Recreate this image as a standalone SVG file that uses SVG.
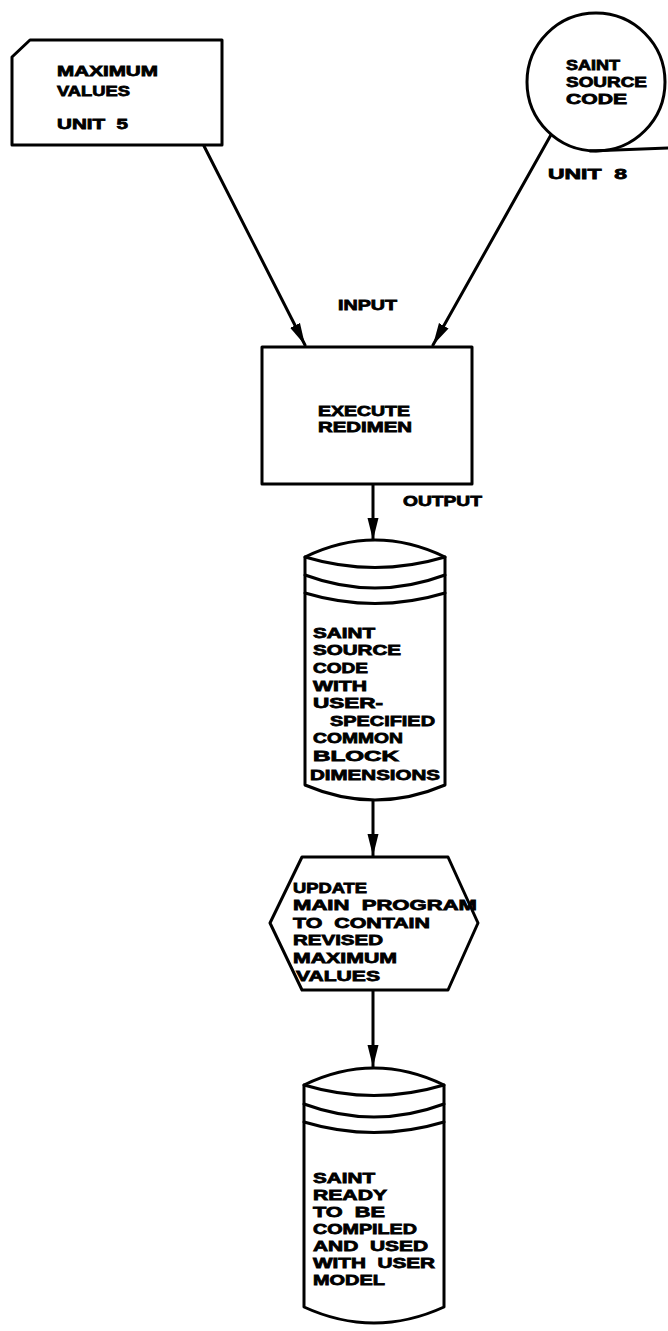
<svg xmlns="http://www.w3.org/2000/svg" width="668" height="1331" viewBox="0 0 668 1331">
<defs>
<marker id="ah" markerUnits="userSpaceOnUse" markerWidth="24" markerHeight="12" viewBox="0 0 24 12" refX="22" refY="6" orient="auto">
<path d="M0,0.5 L22,6 L0,11.5 Z" fill="#000"/>
</marker>
</defs>
<style>
.s{fill:none;stroke:#000;stroke-width:3;stroke-linejoin:round;stroke-linecap:round}
.w{fill:#fff;stroke:#000;stroke-width:3;stroke-linejoin:round}
.t{font-family:"Liberation Sans",Arial,sans-serif;font-weight:bold;font-size:15px;fill:#000;stroke:#000;stroke-width:0.8}
</style>
<rect width="668" height="1331" fill="#fff"/>
<g id="connectors">
<line class="s" x1="204" y1="146" x2="305" y2="345" marker-end="url(#ah)"/>
<line class="s" x1="552" y1="133" x2="433" y2="345" marker-end="url(#ah)"/>
<line class="s" x1="373" y1="484" x2="373" y2="540" marker-end="url(#ah)"/>
<line class="s" x1="373" y1="800" x2="373" y2="856" marker-end="url(#ah)"/>
<line class="s" x1="373" y1="990" x2="373" y2="1067" marker-end="url(#ah)"/>
<text class="t" x="338" y="310" textLength="59" lengthAdjust="spacingAndGlyphs">INPUT</text>
<text class="t" x="403" y="506" textLength="79" lengthAdjust="spacingAndGlyphs">OUTPUT</text>
</g>
<g id="max-values">
<polygon class="w" points="12,57 30,40 222,40 222,145 12,145"/>
<text class="t" x="57" y="76" textLength="101" lengthAdjust="spacingAndGlyphs">MAXIMUM</text>
<text class="t" x="57" y="96" textLength="73" lengthAdjust="spacingAndGlyphs">VALUES</text>
<text class="t" x="57" y="129" textLength="71" lengthAdjust="spacingAndGlyphs" xml:space="preserve">UNIT  5</text>
</g>
<g id="saint-source">
<circle class="w" cx="596" cy="82" r="69"/>
<line class="s" x1="590" y1="151" x2="668" y2="148"/>
<text class="t" x="566" y="70" textLength="54" lengthAdjust="spacingAndGlyphs">SAINT</text>
<text class="t" x="566" y="87" textLength="81" lengthAdjust="spacingAndGlyphs">SOURCE</text>
<text class="t" x="566" y="104" textLength="61" lengthAdjust="spacingAndGlyphs">CODE</text>
<text class="t" x="548" y="179" textLength="79" lengthAdjust="spacingAndGlyphs" xml:space="preserve">UNIT  8</text>
</g>
<g id="execute">
<rect class="w" x="262" y="347" width="210" height="137"/>
<text class="t" x="318" y="416" textLength="92" lengthAdjust="spacingAndGlyphs">EXECUTE</text>
<text class="t" x="318" y="432" textLength="94" lengthAdjust="spacingAndGlyphs">REDIMEN</text>
</g>
<g id="cyl1">
<path class="w" d="M305,557 Q375,523 445,557 L445,785 Q375,815 305,785 Z"/>
<path class="s" d="M305,557 Q375,578 445,557 M305,575 Q375,601 445,575 M305,593 Q375,614 445,593"/>
<text class="t" x="313" y="638" textLength="62" lengthAdjust="spacingAndGlyphs">SAINT</text>
<text class="t" x="313" y="655" textLength="88" lengthAdjust="spacingAndGlyphs">SOURCE</text>
<text class="t" x="313" y="673" textLength="55" lengthAdjust="spacingAndGlyphs">CODE</text>
<text class="t" x="313" y="691" textLength="54" lengthAdjust="spacingAndGlyphs">WITH</text>
<text class="t" x="313" y="708" textLength="70" lengthAdjust="spacingAndGlyphs">USER-</text>
<text class="t" x="330" y="726" textLength="105" lengthAdjust="spacingAndGlyphs">SPECIFIED</text>
<text class="t" x="313" y="743" textLength="90" lengthAdjust="spacingAndGlyphs">COMMON</text>
<text class="t" x="313" y="761" textLength="86" lengthAdjust="spacingAndGlyphs">BLOCK</text>
<text class="t" x="310" y="780" textLength="130" lengthAdjust="spacingAndGlyphs">DIMENSIONS</text>
</g>
<g id="update">
<polygon class="w" points="302,857 448,857 478,923 448,990 302,990 270,923"/>
<text class="t" x="293" y="893" textLength="74" lengthAdjust="spacingAndGlyphs">UPDATE</text>
<text class="t" x="293" y="910" textLength="184" lengthAdjust="spacingAndGlyphs" xml:space="preserve">MAIN  PROGRAM</text>
<text class="t" x="293" y="928" textLength="137" lengthAdjust="spacingAndGlyphs" xml:space="preserve">TO  CONTAIN</text>
<text class="t" x="293" y="945" textLength="90" lengthAdjust="spacingAndGlyphs">REVISED</text>
<text class="t" x="293" y="963" textLength="104" lengthAdjust="spacingAndGlyphs">MAXIMUM</text>
<text class="t" x="296" y="981" textLength="84" lengthAdjust="spacingAndGlyphs">VALUES</text>
</g>
<g id="cyl2">
<path class="w" d="M304,1085 Q374,1051 444,1085 L444,1307 Q374,1339 304,1307 Z"/>
<path class="s" d="M304,1085 Q374,1106 444,1085 M304,1104 Q374,1130 444,1104 M304,1122 Q374,1143 444,1122"/>
<text class="t" x="313" y="1183" textLength="62" lengthAdjust="spacingAndGlyphs">SAINT</text>
<text class="t" x="313" y="1200" textLength="74" lengthAdjust="spacingAndGlyphs">READY</text>
<text class="t" x="313" y="1217" textLength="72" lengthAdjust="spacingAndGlyphs" xml:space="preserve">TO  BE</text>
<text class="t" x="313" y="1234" textLength="104" lengthAdjust="spacingAndGlyphs">COMPILED</text>
<text class="t" x="313" y="1251" textLength="115" lengthAdjust="spacingAndGlyphs" xml:space="preserve">AND  USED</text>
<text class="t" x="313" y="1268" textLength="122" lengthAdjust="spacingAndGlyphs" xml:space="preserve">WITH  USER</text>
<text class="t" x="313" y="1285" textLength="72" lengthAdjust="spacingAndGlyphs">MODEL</text>
</g>
</svg>
